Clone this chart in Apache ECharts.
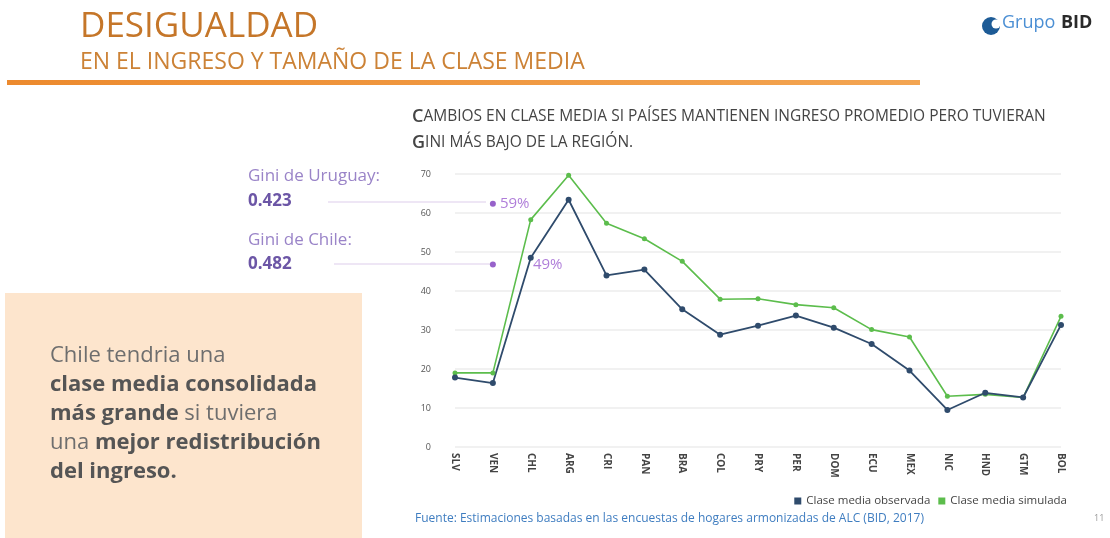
<!DOCTYPE html>
<html>
<head>
<meta charset="utf-8">
<script src="https://cdn.jsdelivr.net/npm/echarts@6/dist/echarts.min.js"></script>
<style>
  html, body { margin: 0; padding: 0; background: #fff; }
  #chart { width: 1110px; height: 538px; }
</style>
</head>
<body>
<div id="chart"></div>
<script>
  // datos
  const paises = ['SLV', 'VEN', 'CHL', 'ARG', 'CRI', 'PAN', 'BRA', 'COL', 'PRY', 'PER', 'DOM', 'ECU', 'MEX', 'NIC', 'HND', 'GTM', 'BOL'];
  const observada = [17.8, 16.4, 48.5, 63.4, 44.0, 45.5, 35.3, 28.8, 31.1, 33.7, 30.6, 26.4, 19.6, 9.5, 13.9, 12.7, 31.3];
  const simulada = [19.0, 19.0, 58.3, 69.7, 57.4, 53.4, 47.6, 37.9, 38.0, 36.5, 35.7, 30.1, 28.2, 13.0, 13.5, 12.7, 33.5];
  const giniNombres = ['Gini de Uruguay:', 'Gini de Chile:'];
  const giniValores = ['0.423', '0.482'];
  const giniEtiquetas = ['59%', '49%'];
  const giniPuntos = [62.4, 46.8];

  const chart = echarts.init(document.getElementById('chart'));
  const fuente = "'Open Sans', sans-serif";

  chart.setOption({
    textStyle: { fontFamily: fuente },
    animation: false,
    grid: { left: 455, right: 49, top: 174, bottom: 91 },
    legend: {
      right: 38,
      top: 490,
      icon: 'rect',
      itemWidth: 7,
      itemHeight: 7,
      itemGap: 8,
      textStyle: { fontSize: 11.5, color: '#444' },
      data: ['Clase media observada', 'Clase media simulada']
    },
    xAxis: {
      type: 'category',
      data: paises,
      boundaryGap: false,
      axisLine: { show: false },
      axisTick: { show: false },
      axisLabel: { rotate: -90, fontSize: 10, color: '#444', margin: 6, fontWeight: 'bold' }
    },
    yAxis: {
      type: 'value',
      min: 0,
      max: 70,
      interval: 10,
      axisLabel: { fontSize: 9, color: '#555', margin: 24 },
      splitLine: { lineStyle: { color: '#ececec', width: 1.5 } }
    },
    series: [
      {
        name: 'Clase media simulada',
        type: 'line',
        data: simulada,
        symbol: 'circle',
        symbolSize: 5,
        color: '#5cbd4c',
        lineStyle: { width: 1.6 }
      },
      {
        name: 'Clase media observada',
        type: 'line',
        data: observada,
        symbol: 'circle',
        symbolSize: 6,
        color: '#2f4b6c',
        lineStyle: { width: 1.8 }
      },
      {
        name: 'gini',
        type: 'scatter',
        symbolSize: 6,
        color: '#7d3bbd',
        data: giniPuntos.map((v, i) => ({
          value: [1, v],
          label: {
            show: true,
            position: 'right',
            distance: i === 0 ? 4 : 37,
            formatter: giniEtiquetas[i],
            fontSize: 15,
            color: '#9b5cd0'
          }
        }))
      }
    ],
    graphic: [
      { type: 'text', left: 80, top: 10, style: { text: 'DESIGUALDAD', font: "500 35px 'Open Sans', sans-serif", fill: '#c57629' } },
      { type: 'text', left: 80, top: 51, style: { text: 'EN EL INGRESO Y TAMAÑO DE LA CLASE MEDIA', font: "23px 'Open Sans', sans-serif", fill: '#cc8236' } },
      {
        type: 'rect', shape: { x: 7, y: 80, width: 913, height: 5 },
        style: { fill: new echarts.graphic.LinearGradient(0, 0, 1, 0, [{ offset: 0, color: '#ec8a2e' }, { offset: 1, color: '#f3a552' }]) }
      },
      // logo
      { type: 'circle', shape: { cx: 991, cy: 26, r: 9 }, style: { fill: '#1d5b96' } },
      { type: 'circle', shape: { cx: 996, cy: 24, r: 4.5 }, style: { fill: '#fff' } },
      { type: 'text', left: 1002, top: 14, style: { text: 'Grupo', font: "18px 'Open Sans', sans-serif", fill: '#4b8fd4' } },
      { type: 'text', left: 1061, top: 14, style: { text: 'BID', font: "bold 18px 'Open Sans', sans-serif", fill: '#2a2a2a' } },
      // subtitulo del grafico
      {
        type: 'text', left: 412, top: 104,
        style: {
          text: '{b|C}{s|AMBIOS EN CLASE MEDIA SI PAÍSES MANTIENEN INGRESO PROMEDIO PERO TUVIERAN}\n{b|G}{s|INI MÁS BAJO DE LA REGIÓN.}',
          fill: '#444',
          lineHeight: 26,
          rich: {
            b: { fontSize: 18, fontFamily: fuente, fontWeight: 600, fill: '#444', lineHeight: 26 },
            s: { fontSize: 15.5, fontFamily: fuente, fontWeight: 500, fill: '#444', lineHeight: 26 }
          }
        }
      },
      // gini
      { type: 'text', left: 248, top: 168, style: { text: giniNombres[0], font: "17px 'Open Sans', sans-serif", fill: '#9a84c8' } },
      { type: 'text', left: 248, top: 193, style: { text: giniValores[0], font: "bold 17px 'Open Sans', sans-serif", fill: '#6c56a6' } },
      { type: 'text', left: 248, top: 232, style: { text: giniNombres[1], font: "17px 'Open Sans', sans-serif", fill: '#9a84c8' } },
      { type: 'text', left: 248, top: 256, style: { text: giniValores[1], font: "bold 17px 'Open Sans', sans-serif", fill: '#6c56a6' } },
      { type: 'line', shape: { x1: 328, y1: 202, x2: 486, y2: 202 }, style: { stroke: '#e8def2', lineWidth: 1.5 } },
      { type: 'line', shape: { x1: 334, y1: 264, x2: 490, y2: 264 }, style: { stroke: '#e8def2', lineWidth: 1.5 } },
      // recuadro
      { type: 'rect', shape: { x: 5, y: 293, width: 357, height: 245 }, style: { fill: '#fde5cd' } },
      {
        type: 'text', left: 50, top: 345,
        style: {
          text: '{n|Chile tendria una}\n{b|clase media consolidada}\n{b|más grande}{n| si tuviera}\n{n|una }{b|mejor redistribución}\n{b|del ingreso.}',
          rich: {
            n: { fontSize: 22, fontFamily: fuente, fill: '#6e6e6e', lineHeight: 29 },
            b: { fontSize: 22, fontFamily: fuente, fontWeight: 'bold', fill: '#555', lineHeight: 29 }
          }
        }
      },
      // fuente
      { type: 'text', left: 415, top: 513, style: { text: 'Fuente: Estimaciones basadas en las encuestas de hogares armonizadas de ALC (BID, 2017)', font: "12px 'Open Sans', sans-serif", fill: '#3f7dc0' } },
      { type: 'text', left: 1094, top: 514, style: { text: '11', font: "9px 'Open Sans', sans-serif", fill: '#999' } }
    ]
  });
</script>
</body>
</html>
